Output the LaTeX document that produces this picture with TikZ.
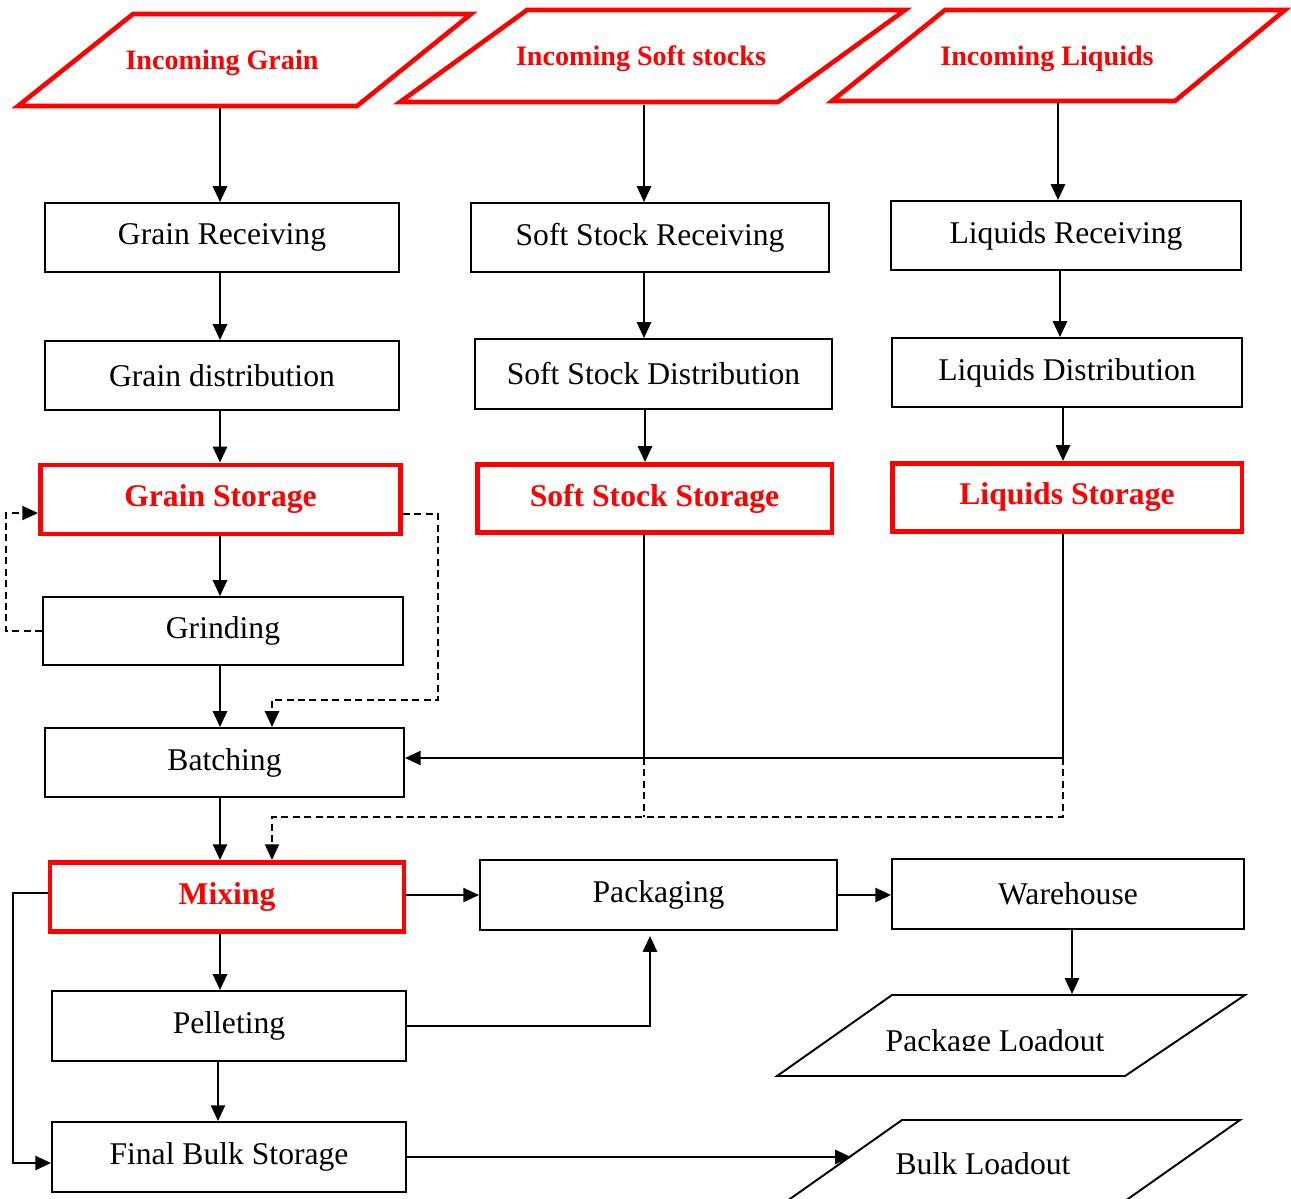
\documentclass[tikz,border=0pt]{standalone}
\usepackage{fontspec}
\setmainfont{Liberation Serif}
\usetikzlibrary{arrows.meta,calc}
\begin{document}
\begin{tikzpicture}[x=0.02cm,y=-0.02cm,
 box/.style={draw,line width=1.1pt,inner sep=0pt,font=\fontsize{18}{21}\selectfont},
 redbox/.style={draw=red,line width=2.8pt,inner sep=0pt,text=red,font=\fontsize{18}{21}\selectfont\bfseries},
 inpar/.style={draw=red,line width=2.6pt,line join=miter},
 outpar/.style={draw,line width=1.1pt},
 redtxt/.style={text=red,font=\fontsize{16}{19}\selectfont\bfseries},
 plaintxt/.style={font=\fontsize{18}{21}\selectfont},
 flow/.style={line width=1.4pt,-{Triangle[length=9pt,width=8pt]}},
 link/.style={line width=1.4pt},
 dlink/.style={line width=1.1pt,dash pattern=on 4pt off 2.5pt},
 dflow/.style={dlink,-{Triangle[length=9pt,width=8pt]}}
]
\clip (0,0) rectangle (1291,1198);
\fill[white] (0,0) rectangle (1291,1198);

% incoming parallelograms
\draw[inpar] (133,14)--(471,14)--(357,106)--(18,106)--cycle;
\node[redtxt] (ig) at (222,63) {Incoming Grain};
\draw[inpar] (527,10)--(905,10)--(778,102)--(400,102)--cycle;
\node[redtxt] (is) at (641,59) {Incoming Soft stocks};
\draw[inpar] (945,10)--(1285,10)--(1175,101)--(832,101)--cycle;
\node[redtxt] (il) at (1047,59) {Incoming Liquids};

\coordinate (igb) at (220,108);
\coordinate (isb) at (644,105);
\coordinate (ilb) at (1058,103);

% column coordinates
\coordinate (c1) at (220,0);
\coordinate (c1x) at (218,0);
\coordinate (c1b) at (272,0);
\coordinate (c2) at (644,0);
\coordinate (cL2) at (1060,0);
\coordinate (cL3) at (1063,0);
\coordinate (hy) at (0,758);
\coordinate (dy) at (0,817);
\coordinate (my) at (0,895);
\coordinate (cpk) at (650,0);

% boxes
\node[box,minimum width=7.08cm,minimum height=1.38cm] (gr) at (222,237.5) {Grain Receiving};
\node[box,minimum width=7.16cm,minimum height=1.38cm] (sr) at (650,237.5) {Soft Stock Receiving};
\node[box,minimum width=7.0cm,minimum height=1.38cm] (lr) at (1066,235.5) {Liquids Receiving};

\node[box,minimum width=7.08cm,minimum height=1.38cm] (gd) at (222,375.5) {Grain distribution};
\node[box,minimum width=7.14cm,minimum height=1.40cm] (sd) at (653.5,374) {Soft Stock Distribution};
\node[box,minimum width=7.0cm,minimum height=1.38cm] (ld) at (1067,372.5) {Liquids Distribution};

\node[redbox,minimum width=7.2cm,minimum height=1.38cm] (gs) at (220.5,499.5) {Grain Storage};
\node[redbox,minimum width=7.1cm,minimum height=1.36cm] (ss) at (654.5,498.5) {Soft Stock Storage};
\node[redbox,minimum width=7.0cm,minimum height=1.36cm] (ls) at (1067,497.5) {Liquids Storage};

\node[box,minimum width=7.2cm,minimum height=1.36cm] (gri) at (223,631) {Grinding};
\node[box,minimum width=7.18cm,minimum height=1.38cm] (ba) at (224.5,762.5) {Batching};
\node[redbox,minimum width=7.08cm,minimum height=1.38cm] (mx) at (227,897) {Mixing};
\node[box,minimum width=7.14cm,minimum height=1.40cm] (pk) at (658.5,895) {Packaging};
\node[box,minimum width=7.04cm,minimum height=1.40cm] (wh) at (1068,894) {Warehouse};
\node[box,minimum width=7.08cm,minimum height=1.40cm] (pe) at (229,1026) {Pelleting};
\node[box,minimum width=7.08cm,minimum height=1.40cm] (fb) at (229,1157) {Final Bulk Storage};

% output parallelograms
\draw[outpar] (892,995)--(1245,995)--(1125,1076)--(777,1076)--cycle;
\begin{scope}
\clip (700,990) rectangle (1291,1050);
\node[plaintxt,anchor=base] (pl) at (995,1051) {Package Loadout};
\end{scope}
\draw[outpar] (902,1120)--(1240,1120)--(1125,1201)--(787,1201)--cycle;
\node[plaintxt,anchor=base] (bl) at (983,1174) {Bulk Loadout};
\coordinate (plt) at (1072,994);
\coordinate (blt) at (851,1157);

% connectors: top rows
\draw[flow] (igb) -- (igb |- gr.north);
\draw[flow] (isb) -- (isb |- sr.north);
\draw[flow] (ilb) -- (ilb |- lr.north);
\draw[flow] (gr.south -| c1) -- (gd.north -| c1);
\draw[flow] (sr.south -| c2) -- (sd.north -| c2);
\draw[flow] (lr.south -| cL2) -- (ld.north -| cL2);
\draw[flow] (gd.south -| c1) -- (gs.north -| c1);
\draw[flow] ($(sd.south -| c2)+(1,0)$) -- ($(ss.north -| c2)+(1,0)$);
\draw[flow] (ld.south -| cL3) -- (ls.north -| cL3);

% grain chain
\draw[flow] (gs.south -| c1) -- (gri.north -| c1);
\draw[flow] (gri.south -| c1) -- (ba.north -| c1);
\coordinate (lp) at (6,570);
\draw[dflow] (gri.west) -| (lp) |- ($(gs.west)+(0,13.5)$);
\coordinate (rp) at (438,700);
\draw[dflow] ($(gs.east)+(0,14.5)$) -| (rp) -| (ba.north -| c1b);

% soft / liquid storage to batching and mixing
\draw[link] (ss.south -| c2) -- (c2 |- hy);
\draw[flow] (ls.south -| cL3) |- (ba.east |- hy);
\draw[dlink] (c2 |- hy) -- (c2 |- dy);
\draw[dflow] (cL3 |- hy) |- (c1b |- dy) -- (mx.north -| c1b);
\draw[flow] (ba.south -| c1) -- (mx.north -| c1);

% mixing onward
\draw[flow] (mx.east |- my) -- (pk.west |- my);
\draw[flow] (pk.east |- my) -- (wh.west |- my);
\draw[flow] (wh.south -| plt) -- (plt);
\draw[flow] (mx.south -| c1) -- (pe.north -| c1);
\coordinate (lx) at (13,1163);
\draw[flow] ($(mx.west)+(0,-4)$) -| (lx) -- (fb.west |- lx);
\draw[flow] (pe.east) -| ($(pk.south -| cpk)+(0,5)$);
\draw[flow] (pe.south -| c1x) -- (fb.north -| c1x);
\draw[flow] (fb.east) -- (blt);
\end{tikzpicture}
\end{document}
